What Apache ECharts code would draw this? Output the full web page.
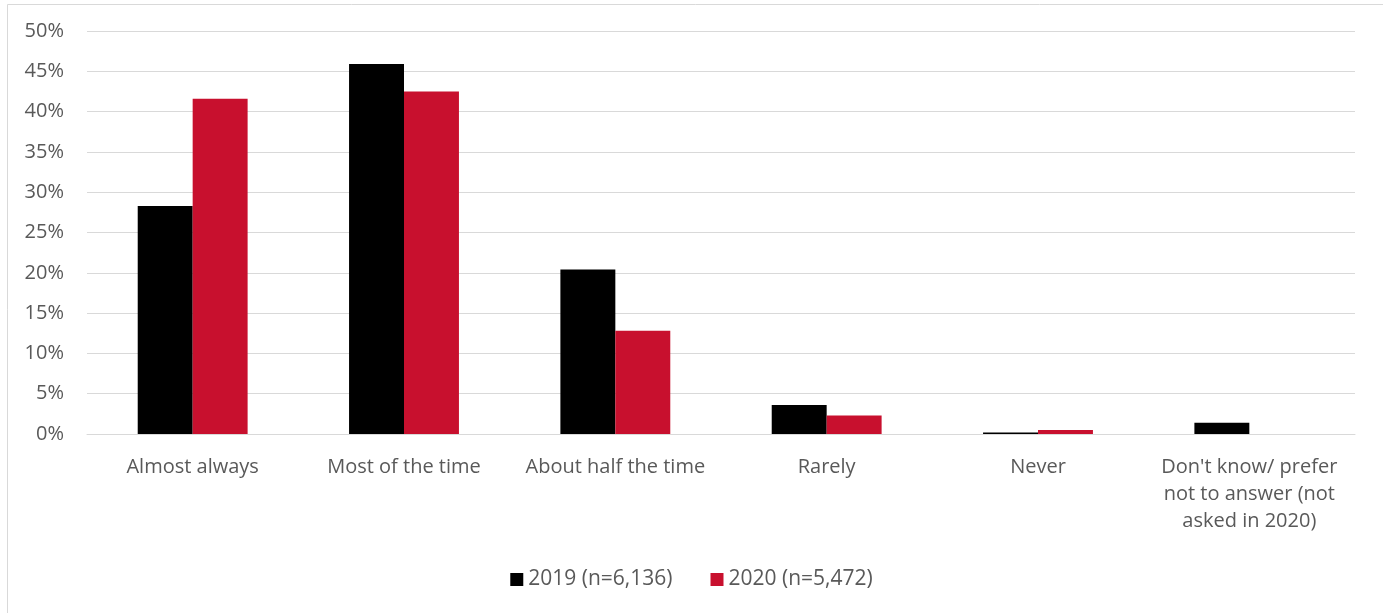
<!DOCTYPE html>
<html>
<head>
<meta charset="utf-8">
<script src="https://cdn.jsdelivr.net/npm/echarts@6/dist/echarts.min.js"></script>
<style>
html,body{margin:0;padding:0;background:#fff;}
#chart{width:1383px;height:613px;}
</style>
</head>
<body>
<div id="chart"></div>
<script>
const categories = ["Almost always", "Most of the time", "About half the time", "Rarely", "Never", "Don't know/ prefer\nnot to answer (not\nasked in 2020)"];
const series2019 = [28.3, 45.9, 20.4, 3.6, 0.2, 1.4];
const series2020 = [41.6, 42.5, 12.8, 2.3, 0.5, null];
const seriesNames = ["2019 (n=6,136)", "2020 (n=5,472)"];
const yTicks = [0, 5, 10, 15, 20, 25, 30, 35, 40, 45, 50];

const FONT = "'Open Sans', sans-serif";
const chart = echarts.init(document.getElementById('chart'), null, {renderer: 'canvas'});
chart.setOption({
  animation: false,
  backgroundColor: '#fff',
  graphic: [{
    type: 'rect', left: 5, top: 2, silent: true,
    shape: {width: 1376, height: 610},
    style: {fill: 'none', stroke: '#d9d9d9', lineWidth: 1}
  }],
  grid: {left: 87, right: 28, top: 31, bottom: 179, containLabel: false},
  legend: {
    top: 564, left: 'center',
    itemWidth: 13, itemHeight: 13, itemGap: 38, itemTextGap: 6,
    icon: 'rect',
    textStyle: {color: '#595959', fontSize: 21, fontFamily: FONT},
    data: seriesNames
  },
  xAxis: {
    type: 'category', data: categories,
    axisLine: {show: true, lineStyle: {color: '#d9d9d9', width: 1}},
    axisTick: {show: false},
    axisLabel: {color: '#595959', fontSize: 20, fontFamily: FONT, margin: 20, lineHeight: 27, interval: 0}
  },
  yAxis: {
    type: 'value', min: 0, max: 50, interval: 5,
    axisLine: {show: false}, axisTick: {show: false},
    splitLine: {lineStyle: {color: '#d9d9d9', width: 1}},
    axisLabel: {color: '#595959', fontSize: 20, fontFamily: FONT, margin: 23,
      formatter: v => yTicks.includes(v) ? v + '%' : ''}
  },
  series: [
    {name: seriesNames[0], type: 'bar', data: series2019, barGap: '0%', barCategoryGap: '48%',
     itemStyle: {color: '#000000'}},
    {name: seriesNames[1], type: 'bar', data: series2020, barGap: '0%', barCategoryGap: '48%',
     itemStyle: {color: '#c8102e'}}
  ]
});
</script>
</body>
</html>
